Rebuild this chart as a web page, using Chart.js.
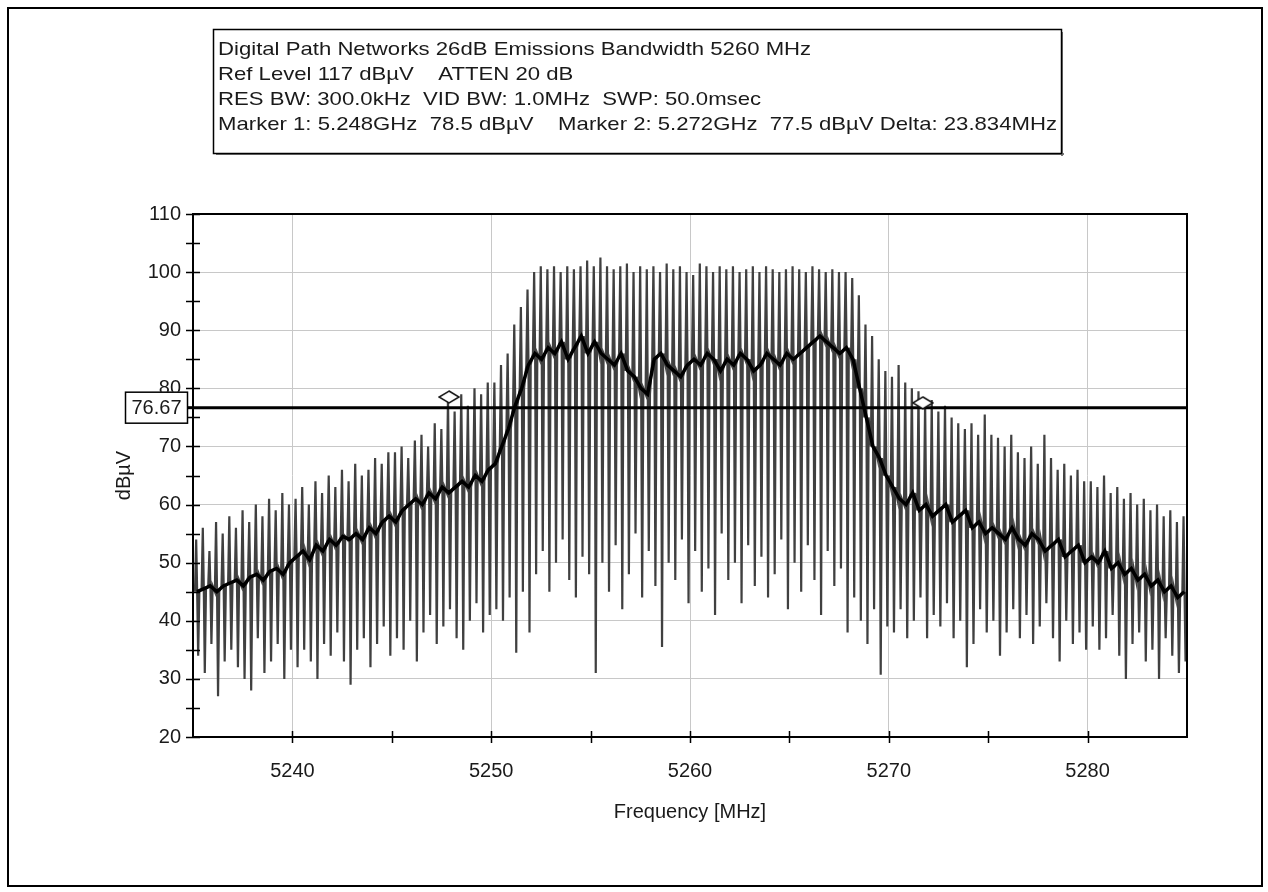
<!DOCTYPE html>
<html>
<head>
<meta charset="utf-8">
<script src="https://cdn.jsdelivr.net/npm/chart.js@4.4.1/dist/chart.umd.min.js"></script>
<style>
html,body{margin:0;padding:0;background:#fff;}
#wrap{width:1268px;height:892px;position:relative;}
</style>
</head>
<body>
<div id="wrap"><canvas id="c" width="1268" height="892"></canvas></div>
<script>
// ---------- text ----------
const headerLines = [
  "Digital Path Networks 26dB Emissions Bandwidth 5260 MHz",
  "Ref Level 117 dB\u00B5V    ATTEN 20 dB",
  "RES BW: 300.0kHz  VID BW: 1.0MHz  SWP: 50.0msec",
  "Marker 1: 5.248GHz  78.5 dB\u00B5V    Marker 2: 5.272GHz  77.5 dB\u00B5V Delta: 23.834MHz"
];
const xAxisTitle = "Frequency [MHz]";
const yAxisTitle = "dB\u00B5V";

// ---------- axes ----------
const xMin = 5235, xMax = 5285;
const yMin = 20, yMax = 110;
const xTickValues = [5240, 5250, 5260, 5270, 5280];
const xMinorTickValues = [5245, 5255, 5265, 5275];
const yTickValues = [20, 30, 40, 50, 60, 70, 80, 90, 100, 110];
const yMinorTickValues = [25, 35, 45, 55, 65, 75, 85, 95, 105];

// ---------- trace (one comb tooth per sweep step) ----------
const toothStartMHz = 5235.1;
const toothStepMHz = 1 / 3;
const peakLevels = [
  54,56,52,57,55,58,56,59,57,60,58,61,59,62,60,
  61,63,60,64,62,65,63,66,64,67,65,66,68,67,69,
  69,70,68,71,72,70,74,73,78.5,76,79,77,80,79,81,
  81,84,86,91,94,97,100,101,100.5,101,100,101,100.5,101,102,
  101,102.5,101,100.5,101,101.5,100,101,100.5,101,100,101.5,100.5,101,100,
  99.5,101.5,101,100,101,100.5,101,100,100.5,101,100,101,100.5,100,100.5,
  101,100.5,100,101,100.5,100,100.5,100,100,99,96,91,89,85,83,
  82,84,81,80,79.5,77.5,78,76,77,75,74,73,74,72,75.5,
  72,71.5,70,72,69,68,70,67,72,68,66,67,65,66,64,
  64,63,65,62,63,61,62,60,61,59,60,58,59,57,58
];
const dipLevels = [
  34,31,36,27,33,35,32,30,28,37,31,33,36,30,35,
  32,35,33,30,36,34,38,33,29,35,37,32,36,39,34,
  37,35,40,33,38,41,36,39,42,37,35,40,43,38,41,
  42,40,44,34.5,45,38,48,52,45,50,54,47,44,51,48,
  31,50,45,53,42,48,55,44,52,46,35.5,50,47,54,43,
  52,45,49,41,55,47,50,43,53,46,51,44,48,54,42,
  50,45,53,47,41,52,46,49,38,44,40,36,42,30.7,39,
  38,42,37,40,44,37,41,39,43,37,40,32,36,42,38,
  40,34,38,42,37,41,36,39,43,37,33,40,36,38,35,
  39,35,37,41,34,30,36,38,33,35,30,37,34,31,33
];
const bandLevels = [
  45,45.5,46,45,46,46.5,47,46,47.5,48,47,48.5,49,48,50,
  51,52,50.5,53,52,54,53,54.5,54,55,54,56,55,57,58,
  57,59,60,61,60,62,61,63,62,63,64,63,65,64,66,
  67,70,73,77,80,84,86,85,87,86,88,85,87,89,86,
  88,86,85,84,86,83,82,80,79,85,86,84,83,82,84,
  85,84,86,85,83,85,84,86,85,83,84,86,85,84,86,
  85,86,87,88,89,88,87,86,87,85,80,75,70,68,65,
  63,61,60,62,59,60,58,59,60,57,58,59,56,57,55,
  56,55,54,56,54,53,55,54,52,53,54,51,52,53,50,
  51,50,52,49,50,48,49,47,48,46,47,45,46,44,45
];

// ---------- display line & markers ----------
const displayLineLevel = 76.67;
const markerFreqs = [5247.88, 5271.71];
const markerLevels = [78.5, 77.5];

// ---------- build datasets ----------
const tracePoints = [];
const bandPoints = [];
for (let i = 0; i < peakLevels.length; i++) {
  const f = toothStartMHz + i * toothStepMHz;
  tracePoints.push({x: f, y: bandLevels[i]});
  tracePoints.push({x: f + 0.06, y: peakLevels[i]});
  tracePoints.push({x: f + 0.11, y: bandLevels[i]});
  tracePoints.push({x: f + 0.16, y: dipLevels[i]});
  tracePoints.push({x: f + 0.22, y: bandLevels[i]});
  bandPoints.push({x: f + 0.1, y: bandLevels[i]});
}
const displayLinePoints = [{x: xMin, y: displayLineLevel}, {x: xMax, y: displayLineLevel}];
const markerPoints = markerFreqs.map((f, i) => ({x: f, y: markerLevels[i]}));

// diamond marker image
const diamond = document.createElement('canvas');
diamond.width = 22; diamond.height = 14;
(function(){
  const g = diamond.getContext('2d');
  g.beginPath();
  g.moveTo(11, 1); g.lineTo(21, 7); g.lineTo(11, 13); g.lineTo(1, 7); g.closePath();
  g.fillStyle = '#fff'; g.fill();
  g.lineWidth = 1.5; g.strokeStyle = '#111'; g.stroke();
})();

const FONT = "'Liberation Sans', Arial, Helvetica, sans-serif";
const TXT = '#1a1a1a';

const decor = {
  id: 'decor',
  beforeDraw(chart) {
    const c = chart.ctx;
    c.save();
    c.fillStyle = '#fff';
    c.fillRect(0, 0, chart.width, chart.height);
    c.restore();
  },
  afterDatasetsDraw(chart) {
    const c = chart.ctx, a = chart.chartArea;
    const xs = chart.scales.x, ys = chart.scales.y;
    c.save();
    c.strokeStyle = '#000';
    c.lineWidth = 2;
    c.strokeRect(a.left, a.top, a.right - a.left, a.bottom - a.top);
    c.lineWidth = 1.5;
    c.beginPath();
    yTickValues.concat(yMinorTickValues).forEach(v => {
      const y = Math.round(ys.getPixelForValue(v)) + 0.5;
      c.moveTo(a.left - 7, y); c.lineTo(a.left + 7, y);
    });
    xTickValues.concat(xMinorTickValues).forEach(v => {
      const x = Math.round(xs.getPixelForValue(v)) + 0.5;
      c.moveTo(x, a.bottom - 6); c.lineTo(x, a.bottom + 6);
    });
    c.stroke();
    c.restore();
  },
  afterDraw(chart) {
    const c = chart.ctx, a = chart.chartArea;
    const ys = chart.scales.y;
    c.save();
    const yl = ys.getPixelForValue(displayLineLevel);
    c.fillStyle = '#fff';
    c.fillRect(125, yl - 16, 63, 32);
    c.strokeStyle = '#000';
    c.lineWidth = 1.5;
    c.strokeRect(125.5, yl - 15.5, 62, 31);
    c.fillStyle = TXT;
    c.font = "20px " + FONT;
    c.textAlign = 'center';
    c.textBaseline = 'middle';
    c.fillText(displayLineLevel.toFixed(2), 156.5, yl + 1);
    c.beginPath();
    c.lineWidth = 3;
    c.moveTo(188, yl); c.lineTo(a.left, yl);
    c.stroke();

    const bx = 213, by = 29, bw = 848, bh = 124;
    c.fillStyle = '#777';
    c.fillRect(bx + 3, by + bh, bw, 2);
    c.fillRect(bx + bw, by + 3, 2, bh);
    c.fillStyle = '#fff';
    c.fillRect(bx, by, bw, bh);
    c.strokeStyle = '#000';
    c.lineWidth = 1.5;
    c.strokeRect(bx + 0.5, by + 0.5, bw, bh);
    c.font = "19px " + FONT;
    c.fillStyle = TXT;
    c.textAlign = 'left';
    c.textBaseline = 'middle';
    const w4 = c.measureText(headerLines[3]).width;
    const sx = 839 / w4;
    headerLines.forEach((t, i) => {
      c.save();
      c.translate(218, 50 + i * 25);
      c.scale(sx, 1);
      c.fillText(t, 0, 0);
      c.restore();
    });

    c.strokeStyle = '#000';
    c.lineWidth = 2;
    c.strokeRect(8, 8, 1254, 878);
    c.restore();
  }
};

new Chart(document.getElementById('c'), {
  type: 'scatter',
  data: {
    datasets: [
      { label: 'markers', data: markerPoints, showLine: false, pointStyle: diamond, pointRadius: 7, order: 0 },
      { label: 'display line', data: displayLinePoints, showLine: true, borderColor: '#000', borderWidth: 3, pointRadius: 0, order: 1 },
      { label: 'band', data: bandPoints, showLine: true, borderColor: '#000', borderWidth: 3.5, pointRadius: 0, order: 2 },
      { label: 'trace', data: tracePoints, showLine: true, borderColor: '#404040', borderWidth: 2.2, pointRadius: 0, order: 3 }
    ]
  },
  options: {
    responsive: false,
    devicePixelRatio: 1,
    animation: false,
    events: [],
    layout: { padding: { left: 112, right: 81, top: 214, bottom: 68 } },
    plugins: { legend: { display: false }, tooltip: { enabled: false } },
    scales: {
      x: {
        type: 'linear',
        min: xMin, max: xMax,
        afterBuildTicks: s => { s.ticks = xTickValues.map(v => ({value: v})); },
        afterFit: s => { s.height = 87; },
        ticks: { font: { family: FONT, size: 20 }, color: TXT, padding: 22, maxRotation: 0, callback: v => String(v) },
        grid: { color: '#c8c8c8', lineWidth: 1, drawTicks: false },
        border: { display: false },
        title: { display: true, text: xAxisTitle, font: { family: FONT, size: 20 }, color: TXT, padding: 0 }
      },
      y: {
        type: 'linear',
        min: yMin, max: yMax,
        afterBuildTicks: s => { s.ticks = yTickValues.map(v => ({value: v})); },
        afterFit: s => { s.width = 81; },
        ticks: { font: { family: FONT, size: 20 }, color: TXT, padding: 12, callback: v => String(v) },
        grid: { color: '#c8c8c8', lineWidth: 1, drawTicks: false },
        border: { display: false },
        title: { display: true, text: yAxisTitle, font: { family: FONT, size: 20 }, color: TXT, padding: 0 }
      }
    }
  },
  plugins: [decor]
});
</script>
</body>
</html>
